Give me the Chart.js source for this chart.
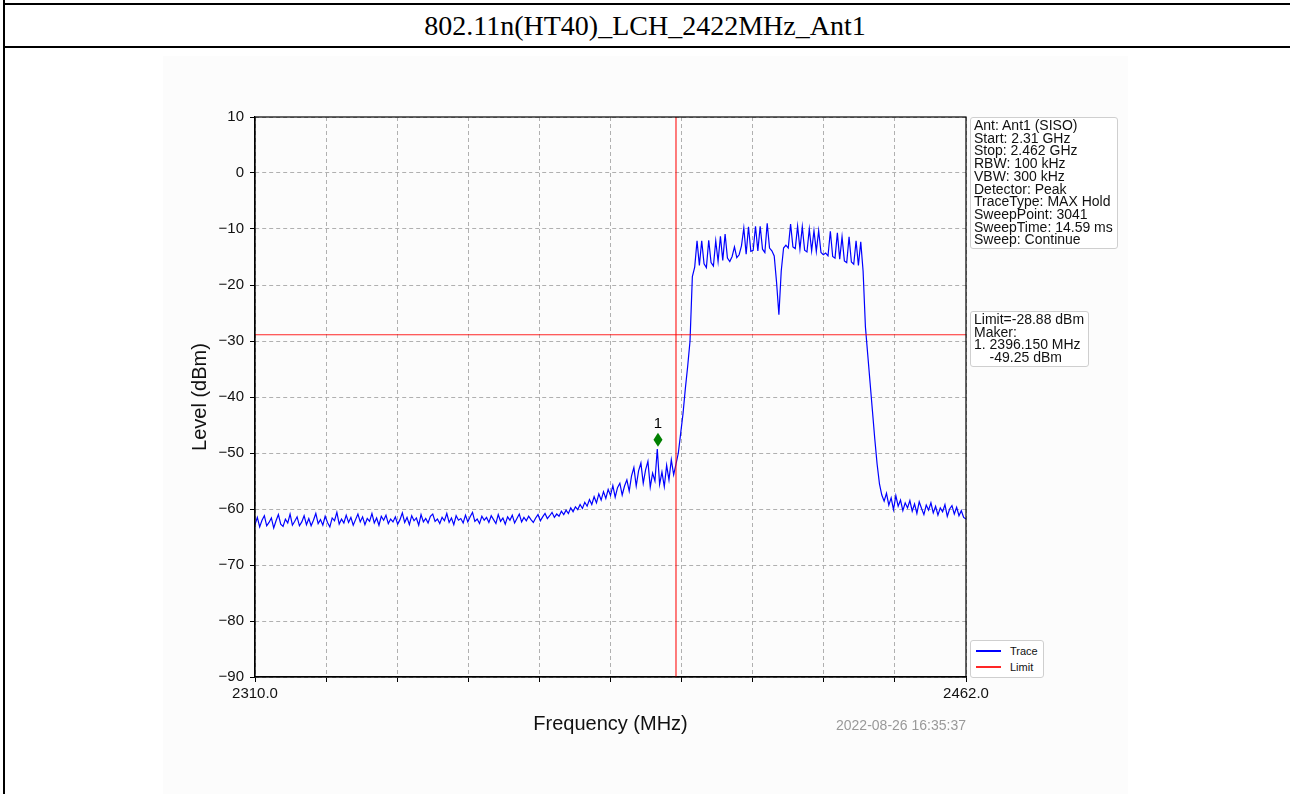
<!DOCTYPE html>
<html>
<head>
<meta charset="utf-8">
<title>802.11n(HT40)_LCH_2422MHz_Ant1</title>
<script src="https://cdn.jsdelivr.net/npm/chart.js@4.4.0/dist/chart.umd.min.js"></script>
<style>
  body { margin: 0; width: 1290px; height: 794px; overflow: hidden; position: relative; background: #fff; font-family: "Liberation Sans", Arial, sans-serif; }
  .line-left { position: absolute; left: 3px; top: 0; width: 2px; height: 794px; background: #000; }
  .line-top { position: absolute; left: 3px; top: 3px; width: 1287px; height: 2px; background: #000; }
  .line-mid { position: absolute; left: 3px; top: 46px; width: 1287px; height: 2px; background: #000; }
  .page-title { position: absolute; left: 0; top: 5px; width: 1290px; height: 41px; line-height: 41px; text-align: center; font-family: "Liberation Serif", "Times New Roman", serif; font-size: 28px; color: #000; }
  .plot-bg { position: absolute; left: 163px; top: 56px; width: 965px; height: 738px; background: #fcfcfc; }
  #chartBox { position: absolute; left: 163px; top: 58px; width: 965px; height: 736px; }
  .info { position: absolute; left: 970px; border: 1px solid #cfcfcf; border-radius: 3px; background: #fff; font-size: 14px; line-height: 12.7px; padding: 1px 4px 2px 3px; color: #111; white-space: pre; }
  #legendBox { position: absolute; left: 970px; top: 640px; width: 72px; height: 36px; border: 1px solid #cfcfcf; border-radius: 3px; background: #fff; font-size: 11px; color: #111; }
  .leg-item { position: absolute; left: 5px; height: 14px; line-height: 14px; }
  .leg-line { position: absolute; left: 0; top: 6px; width: 25px; height: 1.5px; }
  .leg-text { position: absolute; left: 34px; top: 0; }
  .stamp { position: absolute; left: 780px; top: 717px; width: 186px; text-align: right; font-size: 14px; color: #999; }
</style>
</head>
<body>
<div class="line-left"></div>
<div class="line-top"></div>
<div class="line-mid"></div>
<div class="page-title">802.11n(HT40)_LCH_2422MHz_Ant1</div>
<div class="plot-bg"></div>
<div id="chartBox"><canvas id="spectrumChart"></canvas></div>
<div class="info" style="top:117px;">Ant: Ant1 (SISO)
Start: 2.31 GHz
Stop: 2.462 GHz
RBW: 100 kHz
VBW: 300 kHz
Detector: Peak
TraceType: MAX Hold
SweepPoint: 3041
SweepTime: 14.59 ms
Sweep: Continue</div>
<div class="info" style="top:311px;">Limit=-28.88 dBm
Maker:
1. 2396.150 MHz
    -49.25 dBm</div>
<div id="legendBox"></div>
<div class="stamp">2022-08-26 16:35:37</div>

<script>
// Sweep range (MHz) and trace levels (dBm), one value every 0.5 MHz
const FREQ_START = 2310
const FREQ_STOP = 2462
const FREQ_STEP = 0.5

const LEVELS = [
  // 2310
  -62.8, -61.5, -63.2, -62.0, -61.2, -63.0, -62.4, -61.6, -63.4, -62.1, -61.0, -62.7, -63.1, -61.8, -62.5, -60.9, -62.9, -62.2, -61.4, -63.0,
  // 2320
  -62.3, -61.2, -62.8, -61.7, -63.0, -62.0, -60.8, -62.6, -61.9, -62.9, -61.3, -62.4, -63.2, -61.6, -62.1, -60.6, -62.7, -61.8, -62.5, -61.1,
  // 2330
  -62.4, -61.5, -62.9, -61.9, -60.9, -62.3, -61.4, -62.8, -61.7, -62.2, -60.8, -62.5, -61.6, -62.9, -61.3, -62.0, -61.1, -62.6, -61.8, -62.3,
  // 2340
  -61.4, -62.7, -61.9, -60.7, -62.4, -61.5, -62.8, -61.2, -62.1, -61.6, -62.9, -61.0, -62.3, -61.7, -62.5, -61.3, -60.9, -62.2, -61.8, -62.6,
  // 2350
  -61.5, -62.1, -60.8, -62.4, -61.6, -62.8, -61.2, -62.0, -61.7, -62.5, -61.1, -62.3, -61.4, -60.6, -62.2, -61.8, -62.6, -61.3, -62.0, -61.5,
  // 2360
  -62.4, -61.2, -61.9, -62.6, -61.0, -62.2, -61.6, -62.7, -61.4, -62.0, -61.1, -62.5, -61.7, -60.9, -62.3, -61.5, -62.1, -61.3, -61.9, -62.4,
  // 2370
  -61.6, -61.0, -62.1, -61.4, -60.8, -61.7, -61.2, -60.6, -61.5, -60.9, -61.3, -60.4, -61.0, -60.2, -60.8, -59.8, -60.5, -59.6, -60.1, -59.2,
  // 2380
  -59.9, -58.8, -59.5, -58.3, -59.2, -57.8, -58.9, -57.3, -58.4, -56.9, -58.1, -56.5, -57.6, -55.8, -57.9, -56.2, -55.4, -57.5, -55.9, -54.8,
  // 2390
  -56.8, -54.1, -52.6, -55.9, -53.2, -51.8, -55.4, -53.0, -51.5, -56.1, -53.6, -55.0, -49.3, -55.6, -53.4, -56.0, -52.2, -54.8, -51.2, -53.9,
  // 2400
  -52.0, -50.0, -46.5, -43.0, -38.5, -34.5, -30.0, -18.5, -16.8, -12.1, -16.5, -12.1, -16.2, -16.9, -12.0, -16.0, -16.6, -12.1, -15.8, -11.3,
  // 2410
  -15.6, -10.9, -15.2, -15.8, -14.9, -13.2, -15.1, -14.6, -13.0, -9.8, -14.5, -9.6, -14.0, -13.8, -9.5, -13.9, -9.5, -13.6, -14.2, -9.0,
  // 2420
  -13.4, -13.9, -14.8, -19.5, -25.3, -17.5, -13.4, -12.9, -13.4, -9.1, -13.2, -13.5, -9.5, -13.6, -9.6, -13.8, -14.1, -10.0, -13.9, -10.3,
  // 2430
  -14.0, -10.3, -14.2, -14.6, -14.3, -14.8, -10.4, -14.9, -15.2, -10.7, -15.4, -11.4, -15.7, -16.0, -11.4, -15.9, -16.3, -12.1, -16.5, -12.3,
  // 2440
  -17.5, -27.5, -32.5, -37.5, -42.5, -47.5, -52.0, -55.5, -57.5, -58.6, -57.2, -59.3, -58.0, -60.1, -57.6, -59.5, -58.4, -60.3, -58.9, -59.8,
  // 2450
  -58.5, -60.4, -59.1, -60.8, -58.7, -59.9, -61.0, -59.3, -60.2, -58.9, -60.7, -59.5, -61.1, -59.8, -60.5, -59.2, -61.3, -60.0, -59.4, -60.9,
  // 2460
  -59.7, -61.2, -60.3, -61.5, -61.8,
]

const LIMIT_LEVEL = -28.88
const CHANNEL_EDGE = 2400
const MARKER_FREQ = 2396.15
const MARKER_LEVEL = -49.25
const MARKER_LABEL = "1"

const X_TICKS = [2310, 2325.2, 2340.4, 2355.6, 2370.8, 2386, 2401.2, 2416.4, 2431.6, 2446.8, 2462]
const X_TICK_LABELS = ["2310.0", "", "", "", "", "", "", "", "", "", "2462.0"]
const Y_MIN = -90
const Y_MAX = 10
const Y_STEP = 10

const FONT = "'Liberation Sans', Arial, sans-serif"

const traceData = LEVELS.map((level, i) => ({ x: FREQ_START + i * FREQ_STEP, y: level }))

// Frame round the plot area and the green marker
const plotExtras = {
  id: "plotExtras",
  afterDatasetsDraw(chart) {
    const { ctx, scales } = chart
    const px = scales.x.getPixelForValue(MARKER_FREQ)
    const py = scales.y.getPixelForValue(MARKER_LEVEL) - 9
    ctx.save()
    ctx.fillStyle = "#008000"
    ctx.beginPath()
    ctx.moveTo(px, py - 7)
    ctx.lineTo(px + 4.5, py)
    ctx.lineTo(px, py + 7)
    ctx.lineTo(px - 4.5, py)
    ctx.closePath()
    ctx.fill()
    ctx.fillStyle = "#000"
    ctx.font = "15px " + FONT
    ctx.textAlign = "center"
    ctx.textBaseline = "bottom"
    ctx.fillText(MARKER_LABEL, px, py - 8)
    ctx.restore()
  },
  afterDraw(chart) {
    const { ctx, chartArea } = chart
    ctx.save()
    ctx.strokeStyle = "#000"
    ctx.lineWidth = 1.2
    ctx.strokeRect(chartArea.left, chartArea.top, chartArea.right - chartArea.left, chartArea.bottom - chartArea.top)
    ctx.restore()
  },
}

const chart = new Chart(document.getElementById("spectrumChart"), {
  type: "line",
  data: {
    datasets: [
      {
        label: "Trace",
        data: traceData,
        borderColor: "#0000ff",
        borderWidth: 1.2,
        pointRadius: 0,
        order: 2,
      },
      {
        label: "Limit",
        data: [{ x: FREQ_START, y: LIMIT_LEVEL }, { x: FREQ_STOP, y: LIMIT_LEVEL }],
        borderColor: "rgba(255, 0, 0, 0.85)",
        borderWidth: 1.2,
        pointRadius: 0,
        order: 1,
      },
      {
        label: "",
        data: [{ x: CHANNEL_EDGE, y: Y_MIN }, { x: CHANNEL_EDGE, y: Y_MAX }],
        borderColor: "rgba(255, 0, 0, 0.85)",
        borderWidth: 1.2,
        pointRadius: 0,
        order: 1,
      },
    ],
  },
  options: {
    responsive: true,
    maintainAspectRatio: false,
    animation: false,
    layout: { padding: { top: 59, right: 162, left: 0, bottom: 0 } },
    plugins: {
      legend: { display: false },
      tooltip: { enabled: false },
    },
    scales: {
      x: {
        type: "linear",
        min: FREQ_START,
        max: FREQ_STOP,
        afterBuildTicks: (scale) => {
          scale.ticks = X_TICKS.map((v) => ({ value: v }))
        },
        afterFit: (scale) => {
          scale.height = 117
        },
        ticks: {
          autoSkip: false,
          maxRotation: 0,
          padding: 3,
          color: "#111",
          font: { family: FONT, size: 15 },
          callback: (value, index) => X_TICK_LABELS[index],
        },
        grid: { color: "#b0b0b0", lineWidth: 1, tickColor: "#000", tickLength: 5 },
        border: { color: "#000", width: 1.2, dash: [4, 3] },
        title: {
          display: true,
          text: "Frequency (MHz)",
          color: "#111",
          font: { family: FONT, size: 20, lineHeight: 1.2 },
          padding: { top: 0, bottom: 58 },
        },
      },
      y: {
        min: Y_MIN,
        max: Y_MAX,
        afterFit: (scale) => {
          scale.width = 92
        },
        ticks: {
          stepSize: Y_STEP,
          padding: 6,
          color: "#111",
          font: { family: FONT, size: 15 },
          callback: (value) => String(value).replace("-", "\u2212"),
        },
        grid: { color: "#b0b0b0", lineWidth: 1, tickColor: "#000", tickLength: 5 },
        border: { color: "#000", width: 1.2, dash: [4, 3] },
        title: {
          display: true,
          text: "Level (dBm)",
          color: "#111",
          font: { family: FONT, size: 20, lineHeight: 1.2 },
          padding: { top: 25, bottom: 0 },
        },
      },
    },
  },
  plugins: [plotExtras],
})

// Legend box built from the chart's own datasets
const legendBox = document.getElementById("legendBox")
chart.data.datasets
  .filter((ds) => ds.label)
  .forEach((ds, i) => {
    const item = document.createElement("div")
    item.className = "leg-item"
    item.style.top = 3 + i * 16 + "px"
    item.innerHTML = '<span class="leg-line"></span><span class="leg-text"></span>'
    item.querySelector(".leg-line").style.background = ds.borderColor
    item.querySelector(".leg-text").textContent = ds.label
    legendBox.appendChild(item)
  })
</script>
</body>
</html>
